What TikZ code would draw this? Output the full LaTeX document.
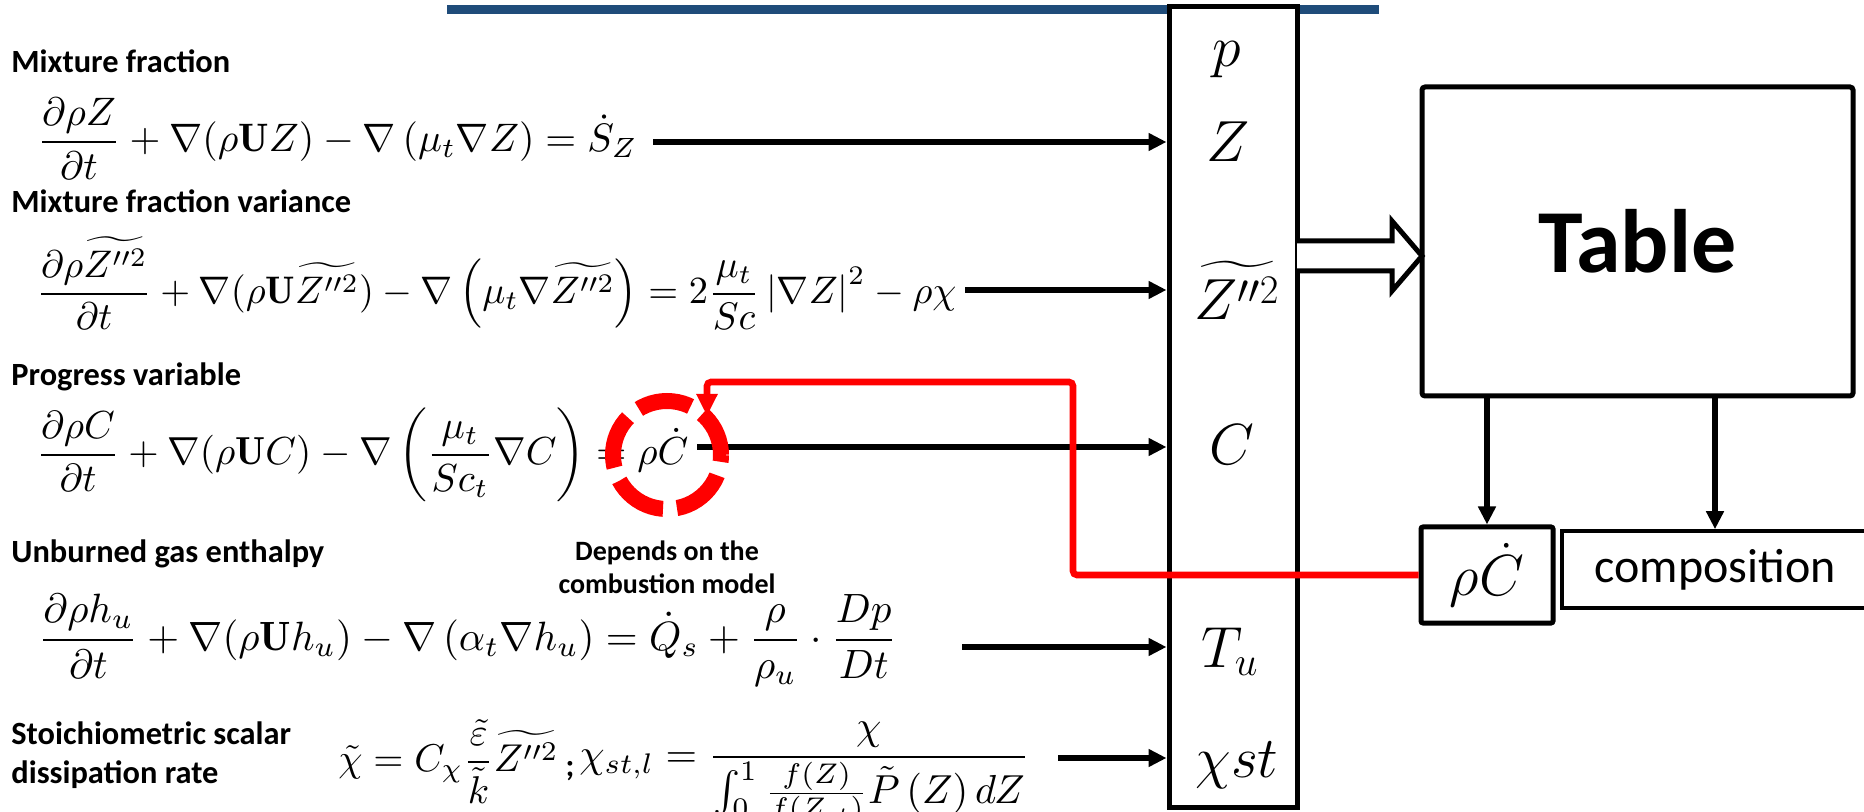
\RequirePackage{fix-cm}
\documentclass[tikz,border=0pt]{standalone}
\usepackage{amsmath}
\usepackage{graphicx}
\usepackage{fontspec}
\usetikzlibrary{arrows.meta}
\newfontfamily\calibri{Carlito}
\definecolor{barblue}{RGB}{31,76,122}
\definecolor{tred}{RGB}{255,0,0}
\newcommand{\axeq}[2]{\resizebox{#1}{!}{\raisebox{-2.5pt}{$\displaystyle #2$}}}
\tikzset{
  lbl/.style={anchor=base west, inner sep=0pt, font=\calibri\bfseries\fontsize{16.2}{19}\selectfont},
  note/.style={anchor=base, inner sep=0pt, font=\calibri\bfseries\fontsize{14}{17}\selectfont},
  eqn/.style={anchor=base west, inner sep=0pt},
  arr/.style={line width=2.8pt, -{Triangle[length=9pt,width=8.5pt]}},
  redarr/.style={draw=tred, line width=3.3pt, rounded corners=2pt, -{Triangle[length=11pt,width=10pt]}},
  colvar/.style={anchor=base, inner sep=0pt, font=\fontsize{29}{34}\selectfont},
  thickbox/.style={draw, line width=2.5pt, inner sep=0pt, fill=white},
}
\begin{document}
\begin{tikzpicture}[x=0.5pt, y=-0.5pt]
\useasboundingbox (0,0) rectangle (1864,812);
\clip (0,0) rectangle (1864,812);
\fill[white] (0,0) rectangle (1864,812);

% top blue bar
\fill[barblue] (447,5) rectangle (1379,14);

% left labels
\node[lbl] (l1) at (11,73) {Mixture fraction};
\node[lbl] (l2) at (11,213) {Mixture fraction variance};
\node[lbl] (l3) at (11,386) {Progress variable};
\node[lbl] (l4) at (11,562) {Unburned gas enthalpy};
\node[lbl] (l5a) at (11,744) {Stoichiometric scalar};
\node[lbl] (l5b) at (11,783) {dissipation rate};

% equations
\node[eqn] (eq1) at (37,142) {\axeq{300pt}{\frac{\partial \rho Z}{\partial t} + \nabla(\rho\mathbf{U}Z) - \nabla\left(\mu_t\nabla Z\right) = \dot{S}_Z}};
\node[eqn] (eq2) at (36,294) {\axeq{460pt}{\frac{\partial \rho \widetilde{Z^{\prime\prime 2}}}{\partial t} + \nabla(\rho\mathbf{U}\widetilde{Z^{\prime\prime 2}}) - \nabla\left(\mu_t\nabla\widetilde{Z^{\prime\prime 2}}\right) = 2\frac{\mu_t}{Sc}\left|\nabla Z\right|^2 - \rho\chi}};
\node[eqn] (eq3) at (36,455) {\axeq{326pt}{\frac{\partial \rho C}{\partial t} + \nabla(\rho\mathbf{U}C) - \nabla\left(\frac{\mu_t}{Sc_t}\nabla C\right) = \rho\dot{C}}};
\node[eqn] (eq4) at (38,640) {\axeq{429pt}{\frac{\partial \rho h_u}{\partial t} + \nabla(\rho\mathbf{U}h_u) - \nabla\left(\alpha_t\nabla h_u\right) = \dot{Q}_s + \frac{\rho}{\rho_u}\cdot\frac{Dp}{Dt}}};
\node[eqn] (eq5a) at (338,762) {\axeq{110pt}{\tilde{\chi} = C_{\chi}\frac{\tilde{\varepsilon}}{\tilde{k}}\widetilde{Z^{\prime\prime 2}}}};
\node[anchor=base, inner sep=0pt, font=\calibri\bfseries\fontsize{16}{19}\selectfont] (semi) at (570,776) {;};
\node[eqn] (eq5b) at (579,757) {\axeq{225pt}{\chi_{st,l} = \frac{\chi}{\int_0^1 \frac{f(Z)}{f(Z_{st})}\tilde{P}\left(Z\right)dZ}}};

% note
\node[note] (n1) at (667,560) {Depends on the};
\node[note] (n2) at (667,593) {combustion model};

% column of variables
\node[thickbox, minimum width=64pt, minimum height=400pt] (col) at (1233,407) {};
\node[colvar] (vp) at (1227,67) {$p$};
\node[colvar] (vz) at (1228,162) {$Z$};
\node[colvar] (vzz) at (1237,320) {$\widetilde{Z^{\prime\prime 2}}$};
\node[colvar] (vc) at (1232,465) {$C$};
\node[colvar] (vt) at (1230,667) {$T_u$};
\node[colvar] (vx) at (1237,777) {$\chi st$};

% arrow starts
\coordinate (s1) at (653,142);
\coordinate (s2) at (965,290);
\coordinate (s3) at (697,447);
\coordinate (s4) at (962,647);
\coordinate (s5) at (1058,758);
\draw[arr] (s1) -- (s1 -| col.west);
\draw[arr] (s2) -- (s2 -| col.west);
\draw[arr] (s3) -- (s3 -| col.west);
\draw[arr] (s4) -- (s4 -| col.west);
\draw[arr] (s5) -- (s5 -| col.west);

% dashed ring
\node[draw=tred, circle, line width=8pt, minimum size=54pt, inner sep=0pt,
      dash pattern=on 27pt off 7pt, dash phase=3.8pt] (ring) at (667,455) {};

% table
\node[thickbox, rounded corners=1.5pt, minimum width=215.5pt, minimum height=154.5pt,
      font=\calibri\bfseries\fontsize{45}{52}\selectfont] (table) at (1637.5,241.5) {Table};

% hollow arrow
\draw[line width=2.5pt, fill=white, line join=miter]
  (1297,241) -- (1392,241) -- (1392,221) -- (1422,256) -- (1392,291) -- (1392,271) -- (1297,271);

% outputs
\node[thickbox, rounded corners=1pt, minimum width=66pt, minimum height=48pt,
      font=\fontsize{29}{34}\selectfont] (rbox) at (1487,575) {$\rho\dot{C}$};
\node[draw, line width=1.8pt, inner sep=0pt, fill=white, minimum width=153pt, minimum height=38.5pt,
      font=\calibri\fontsize{24}{28}\selectfont] (comp) at (1715,569.5) {composition};
\draw[arr] (rbox.north |- table.south) -- (rbox.north);
\draw[arr] (comp.north |- table.south) -- (comp.north);

% red feedback
\coordinate (r1) at (1073,575);
\coordinate (r2) at (1073,382);
\coordinate (r3) at (707,382);
\coordinate (r4) at (707,416);
\draw[redarr] (rbox.west) -- (r1) -- (r2) -- (r3) -- (r4);
\end{tikzpicture}
\end{document}
